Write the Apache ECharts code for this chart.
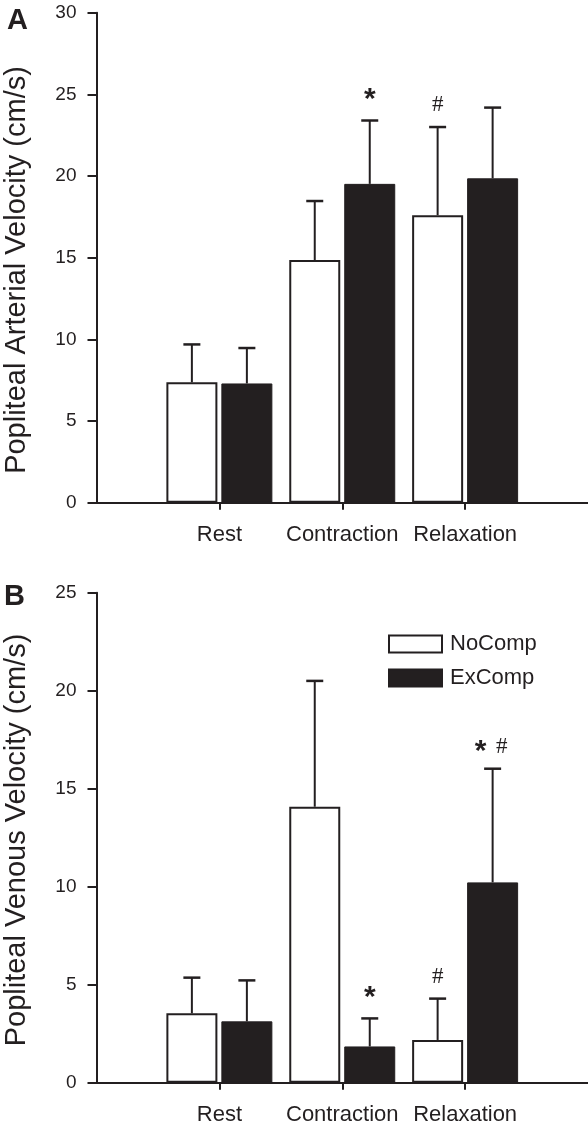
<!DOCTYPE html>
<html>
<head>
<meta charset="utf-8">
<script src="https://cdn.jsdelivr.net/npm/echarts@6/dist/echarts.min.js"></script>
<style>
html,body{margin:0;padding:0;background:#fff;}
#chart{width:588px;height:1130px;}
</style>
</head>
<body>
<div id="chart"></div>
<script>
// ---- data ----
const categories = ['Rest', 'Contraction', 'Relaxation'];
const seriesNames = ['NoComp', 'ExComp'];
const yTitleA = 'Popliteal Arterial Velocity (cm/s)';
const yTitleB = 'Popliteal Venous Velocity (cm/s)';

const arterialNoComp = [7.37, 14.86, 17.6];
const arterialNoCompSD = [2.32, 3.61, 5.4];
const arterialExComp = [7.30, 19.52, 19.86];
const arterialExCompSD = [2.17, 3.88, 4.33];
const arterialNoCompMark = ['', '', '#'];
const arterialExCompMark = ['', '*', ''];

const venousNoComp = [3.54, 14.08, 2.18];
const venousNoCompSD = [1.82, 6.42, 2.11];
const venousExComp = [3.13, 1.85, 10.22];
const venousExCompSD = [2.09, 1.43, 5.80];
const venousNoCompMark = ['', '', '#'];
const venousExCompMark = ['', '*', '* #'];

const yTicksA = {min: 0, max: 30, interval: 5};
const yTicksB = {min: 0, max: 25, interval: 5};

// ---- style ----
const INK = '#231f20';
const FONT = '"Liberation Sans", Arial, Helvetica, sans-serif';
const BAR_W = 51;
const BAR_GAP_PX = 4;
const HALF = (BAR_W + BAR_GAP_PX) / 2;

const chart = echarts.init(document.getElementById('chart'), null, {renderer: 'canvas'});

function pos(i) { return i + 1; }

function barData(vals) { return vals.map((v, i) => [pos(i), v]); }

function errSeries(gridIdx, vals, sds, marks, offset) {
  return {
    type: 'custom',
    xAxisIndex: gridIdx, yAxisIndex: gridIdx,
    z: 5,
    silent: true,
    data: vals.map((v, i) => [pos(i), v, sds[i]]),
    encode: {x: 0, y: 1},
    renderItem: function (params, api) {
      const x = api.value(0), m = api.value(1), s = api.value(2);
      const p0 = api.coord([x, m]);
      const p1 = api.coord([x, m + s]);
      const px = p0[0] + offset;
      const children = [
        {type: 'line', shape: {x1: px, y1: p0[1], x2: px, y2: p1[1]}, style: {stroke: INK, lineWidth: 2}},
        {type: 'line', shape: {x1: px - 8.5, y1: p1[1], x2: px + 8.5, y2: p1[1]}, style: {stroke: INK, lineWidth: 2.5}}
      ];
      const mark = marks[params.dataIndex];
      if (mark) {
        const toks = mark.split(' ');
        const offs = toks.length === 1 ? [0] : [-12, 9];
        toks.forEach((t, k) => {
          const isStar = t === '*';
          children.push({
            type: 'text',
            style: {
              text: t,
              x: px + offs[k],
              y: p1[1] - (isStar ? (toks.length > 1 ? 17 : 21) : 22),
              align: 'center', verticalAlign: 'middle',
              fill: INK,
              font: isStar ? ('bold 30px ' + FONT) : ('23px "Liberation Serif", "Times New Roman", serif')
            }
          });
        });
      }
      return {type: 'group', children: children};
    }
  };
}

function barSeries(gridIdx, name, vals, isWhite) {
  return {
    type: 'bar', name: name,
    xAxisIndex: gridIdx, yAxisIndex: gridIdx,
    data: barData(vals),
    barWidth: BAR_W,
    barGap: (BAR_GAP_PX / BAR_W * 100).toFixed(1) + '%',
    itemStyle: isWhite
      ? {color: '#ffffff', borderColor: INK, borderWidth: 2}
      : {color: INK, borderColor: INK, borderWidth: 1},
    emphasis: {disabled: true}
  };
}

function xAxis(gridIdx) {
  return {
    type: 'value', gridIndex: gridIdx, min: 0, max: 4,
    splitLine: {show: false},
    axisLine: {show: true, onZero: false, lineStyle: {color: INK, width: 2}},
    axisTick: {show: true, length: 7, lineStyle: {color: INK, width: 2}, customValues: [1, 2, 3]},
    axisLabel: {
      show: true, margin: 21, color: INK, fontSize: 22, fontFamily: FONT,
      customValues: [1, 2, 3],
      formatter: v => categories[Math.round(v) - 1] || ''
    }
  };
}

function yAxis(gridIdx, t) {
  return {
    type: 'value', gridIndex: gridIdx, min: t.min, max: t.max, interval: t.interval,
    splitLine: {show: false},
    axisLine: {show: true, lineStyle: {color: INK, width: 2}},
    axisTick: {show: true, length: 9, lineStyle: {color: INK, width: 2}},
    axisLabel: {margin: 20, color: INK, fontSize: 19, fontFamily: FONT}
  };
}

const option = {
  animation: false,
  backgroundColor: '#ffffff',
  textStyle: {fontFamily: FONT},
  grid: [
    {left: 96.5, right: 0, top: 12.7, height: 490},
    {left: 96.5, right: 0, top: 592.7, height: 490}
  ],
  xAxis: [xAxis(0), xAxis(1)],
  yAxis: [yAxis(0, yTicksA), yAxis(1, yTicksB)],
  legend: {
    data: seriesNames,
    orient: 'vertical',
    left: 383, top: 628,
    itemWidth: 53, itemHeight: 17, itemGap: 12,
    icon: 'rect',
    selectedMode: false,
    textStyle: {fontSize: 22, color: INK, fontFamily: FONT, padding: [0, 0, 0, 3]}
  },
  graphic: [
    {type: 'text', left: 7, top: 6, style: {text: 'A', font: 'bold 29px ' + FONT, fill: INK}},
    {type: 'text', left: 4, top: 582, style: {text: 'B', font: 'bold 29px ' + FONT, fill: INK}},
    {type: 'text', x: 17, y: 270, rotation: Math.PI / 2,
      style: {text: yTitleA, font: '29px ' + FONT, fill: INK, align: 'center', verticalAlign: 'middle'}},
    {type: 'text', x: 17, y: 840, rotation: Math.PI / 2,
      style: {text: yTitleB, font: '29px ' + FONT, fill: INK, align: 'center', verticalAlign: 'middle'}}
  ],
  series: [
    barSeries(0, seriesNames[0], arterialNoComp, true),
    barSeries(0, seriesNames[1], arterialExComp, false),
    barSeries(1, seriesNames[0], venousNoComp, true),
    barSeries(1, seriesNames[1], venousExComp, false),
    errSeries(0, arterialNoComp, arterialNoCompSD, arterialNoCompMark, -HALF),
    errSeries(0, arterialExComp, arterialExCompSD, arterialExCompMark, HALF),
    errSeries(1, venousNoComp, venousNoCompSD, venousNoCompMark, -HALF),
    errSeries(1, venousExComp, venousExCompSD, venousExCompMark, HALF)
  ]
};
chart.setOption(option);
</script>
</body>
</html>
